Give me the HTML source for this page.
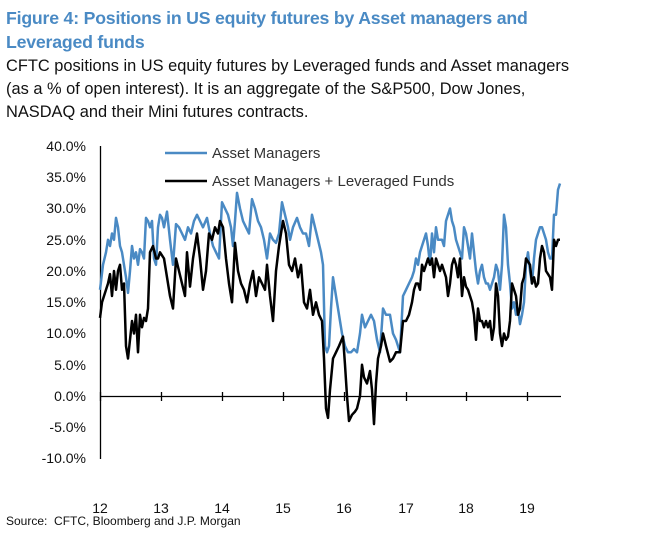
<!DOCTYPE html><html><head><style>
body{margin:0;width:650px;height:536px;background:#fff;font-family:"Liberation Sans",Arial,sans-serif;position:relative;overflow:hidden}
.t{position:absolute;left:6px;top:6px;color:#4a8ac4;font-weight:bold;font-size:17.7px;line-height:24px;letter-spacing:-0.2px}
.s{position:absolute;left:6px;top:55px;color:#111;font-size:16.4px;line-height:23px}
.src{position:absolute;left:6px;top:514px;font-size:12px;color:#111}
</style></head><body>
<div class="t">Figure 4: Positions in US equity futures by Asset managers and<br>Leveraged funds</div>
<div class="s">CFTC positions in US equity futures by Leveraged funds and Asset managers<br>(as a % of open interest). It is an aggregate of the S&amp;P500, Dow Jones,<br>NASDAQ and their Mini futures contracts.</div>
<svg width="650" height="536" style="position:absolute;left:0;top:0">
<g font-family="Liberation Sans,Arial,sans-serif" font-size="14" fill="#111" text-anchor="end">
<text x="86" y="151">40.0%</text><text x="86" y="182">35.0%</text><text x="86" y="213">30.0%</text><text x="86" y="245">25.0%</text><text x="86" y="276">20.0%</text><text x="86" y="307">15.0%</text><text x="86" y="338">10.0%</text><text x="86" y="370">5.0%</text><text x="86" y="401">0.0%</text><text x="86" y="432">-5.0%</text><text x="86" y="463">-10.0%</text>
</g>
<g font-family="Liberation Sans,Arial,sans-serif" font-size="14" fill="#111" text-anchor="middle">
<text x="100" y="513">12</text><text x="161" y="513">13</text><text x="222" y="513">14</text><text x="283" y="513">15</text><text x="344" y="513">16</text><text x="406" y="513">17</text><text x="466" y="513">18</text><text x="527" y="513">19</text>
</g>
<g stroke="#000" stroke-width="1.3" fill="none">
<line x1="100.5" y1="146" x2="100.5" y2="459"/>
<line x1="100" y1="396.5" x2="561" y2="396.5"/>
</g>
<g id="ticks" stroke="#000" stroke-width="1.3"></g>
<line x1="165" y1="153" x2="207" y2="153" stroke="#4a8ac4" stroke-width="2.5"/>
<line x1="165" y1="181" x2="207" y2="181" stroke="#000" stroke-width="2.5"/>
<g font-family="Liberation Sans,Arial,sans-serif" font-size="15" fill="#333">
<text x="212" y="158">Asset Managers</text>
<text x="212" y="186">Asset Managers + Leveraged Funds</text>
</g>
<polyline id="blue" fill="none" stroke="#4a8ac4" stroke-width="2.5" stroke-linejoin="round"/>
<polyline id="black" fill="none" stroke="#000" stroke-width="2.5" stroke-linejoin="round"/>
</svg>
<div class="src">Source:&nbsp; CFTC, Bloomberg and J.P. Morgan</div>
<script>
var ns="http://www.w3.org/2000/svg",g=document.getElementById("ticks");
[100,161,222,283,344,406,466,527].forEach(function(x){var l=document.createElementNS(ns,"line");l.setAttribute("x1",x+.5);l.setAttribute("x2",x+.5);l.setAttribute("y1",392);l.setAttribute("y2",401);g.appendChild(l);});
var B=[100,17,103,21,106,23,108,25,110,24,112,26,114,25,116,28.5,118,27,120,24,122,23,124,21,126,19,128,16.5,130,20,132,24,134,22,136,23,138,21,140,23.5,142,23,144,22,146,28.5,148,28,150,27,152,28,154,22,156,21,158,27,160,29,162,28.5,164,27,167,29.5,170,25,173,21,176,27.5,179,27,182,26,185,25,188,27,191,26,194,28,197,29,200,28,203,27,207,28.5,210,26,213,24,216,23,219,22,222,31,225,30,228,29,231,27,233,24,235,28,237,32.5,240,30,243,28,246,27,249,26,252,31.5,255,30,258,28,261,27,264,25,267,22,270,26,273,25,276,24.5,279,26,282,31,285,29,288,27,290,25,293,27,297,28.5,300,27,303,26,306,26,309,24,312,29,315,27,318,25,321,23,323,21,325,8,327,7,329,8,331,14,333,19,336,16,339,13,342,10,345,8,348,7,351,7,354,7.5,357,7,360,10,362,13,365,11,368,12,371,13,374,12,377,9,380,7,383,14,386,13,390,13,393,10,396,9,400,7,403,16,406,17,409,18,412,19,414,20,416,22,418,21,420,23,422,24,424,25,426,26,428,24,430,21,432,26,434,23,436,27,438,25,440,25,442,25,444,24,446,28,448,29,450,30,452,28,454,27,456,25,458,24,460,23,462,22,464,27,466,26,468,24,470,22,472,26,474,23,476,20,478,18,480,20,482,21,484,19,486,18,488,18,490,17,492,18,494,19,496,21,498,20,500,17,502,21,504,29,506,27,508,21,510,18,512,14,514,15,516,13,518,14,520,11.5,522,13,524,15,526,21,528,23,530,20,532,18,534,22,536,25,538,26,540,27,542,27,544,26,546,25,548,23,550,22,552,22,554,29,556,29,558,33,560,34];
var K=[100,12.5,102,15,104,16,106,17,108,18,110,19.5,112,16,114,20,116,17,118,20,120,21,122,17,124,18,126,8,128,6,130,9,132,12,134,10,136,13,138,7,140,13,142,11,144,12.5,146,12,148,14,150,23,153,24,156,22,158,22,160,23,162,22.5,164,22,166,20,168,18,170,16,173,14,176,22,179,20,182,18,185,16,187,23,190,17.5,193,22,195,24,197,26,200,22,203,17,206,20,209,26,212,25,215,27,218,26,220,28,223,27,226,22,229,18,232,15,235,24.5,238,20,241,18,244,17,247,15,250,18,253,20,256,16,259,19,262,18,265,17,267,21,270,16,273,12,276,20,279,24,283,28,286,26,289,21,292,20,295,22,298,19,301,21,304,15,307,14,310,17,313,13,316,15,319,13,322,12,324,6,326,-2,328,-3.5,330,1,333,6,336,7,339,8,343,9.5,345,5,347,0,349,-4,352,-3,355,-2.5,357,-2,360,0,362,5,364,3,367,2,370,4,372,1,374,-4.5,376,2,378,6,381,8,383,10,386,8,390,5.5,393,6,396,7,400,7,403,12,406,12,409,13,412,15,414,17,416,18,418,18,420,17,422,21,424,20,426,21,428,22,430,21,432,22,434,19,436,22,438,21,440,20,442,21,444,20,446,19,448,16,450,18,452,21,454,22,456,21,458,19,460,22,462,16,464,19,466,17.5,468,17,470,16,472,15,474,13,476,9,478,14,480,12,482,12,484,11,486,12,488,11,490,12,492,9,494,11,496,18,498,16,500,10,502,8,504,10,506,9,508,9.5,510,12,512,18,514,17,516,16,518,13,520,14,522,18,524,19,526,22,528,21.5,530,21,532,18,534,19,536,17.5,538,18,540,22,542,24,544,23,546,20,548,19.5,550,19,552,17,554,25,556,24,558,25,560,25];
function pts(a){var s=[];for(var i=0;i<a.length;i+=2)s.push(a[i]+","+(396-6.25*a[i+1]).toFixed(1));return s.join(" ");}
document.getElementById("blue").setAttribute("points",pts(B));
document.getElementById("black").setAttribute("points",pts(K));
</script>
</body></html>
